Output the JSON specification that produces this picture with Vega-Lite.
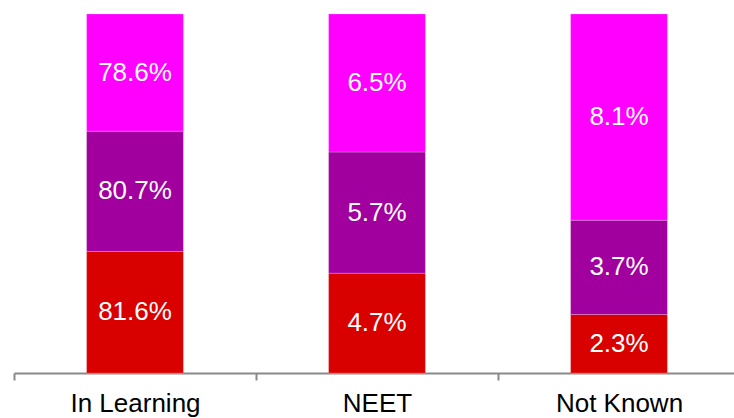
{
  "$schema": "https://vega.github.io/schema/vega-lite/v6.json",
  "width": 726,
  "height": 359,
  "autosize": {"type": "none"},
  "padding": {"left": 14, "top": 14, "right": 0, "bottom": 45},
  "background": "white",
  "config": {"view": {"stroke": null}, "font": "Liberation Sans"},
  "data": {
    "values": [
      {"category": "In Learning", "series": "s1", "value": 0.816},
      {"category": "In Learning", "series": "s2", "value": 0.807},
      {"category": "In Learning", "series": "s3", "value": 0.786},
      {"category": "NEET", "series": "s1", "value": 0.047},
      {"category": "NEET", "series": "s2", "value": 0.057},
      {"category": "NEET", "series": "s3", "value": 0.065},
      {"category": "Not Known", "series": "s1", "value": 0.023},
      {"category": "Not Known", "series": "s2", "value": 0.037},
      {"category": "Not Known", "series": "s3", "value": 0.081}
    ]
  },
  "encoding": {
    "x": {
      "field": "category",
      "type": "nominal",
      "sort": ["In Learning", "NEET", "Not Known"],
      "scale": {"paddingInner": 0, "paddingOuter": 0},
      "axis": {
        "title": null,
        "labelAngle": 0,
        "tickBand": "extent",
        "domainColor": "#898989",
        "domainWidth": 2,
        "tickColor": "#898989",
        "tickWidth": 2,
        "tickSize": 7,
        "labelFontSize": 26,
        "labelColor": "#000000",
        "labelFont": "Liberation Sans",
        "labelPadding": 10
      }
    }
  },
  "layer": [
    {
      "mark": {"type": "bar", "width": {"band": 0.4}, "stroke": "#ffffff", "strokeOpacity": 0.4, "strokeWidth": 0.5},
      "encoding": {
        "y": {"field": "value", "type": "quantitative", "stack": "normalize", "axis": null},
        "order": {"field": "series"},
        "color": {
          "field": "series",
          "type": "nominal",
          "scale": {"domain": ["s1", "s2", "s3"], "range": ["#D90000", "#A1009F", "#FF00FF"]},
          "legend": null
        }
      }
    },
    {
      "mark": {"type": "text", "color": "white", "fontSize": 26, "font": "Liberation Sans", "baseline": "middle"},
      "encoding": {
        "y": {"field": "value", "type": "quantitative", "stack": "normalize", "bandPosition": 0.5, "axis": null},
        "order": {"field": "series"},
        "detail": {"field": "series"},
        "text": {"field": "value", "type": "quantitative", "format": ".1%"}
      }
    }
  ]
}
